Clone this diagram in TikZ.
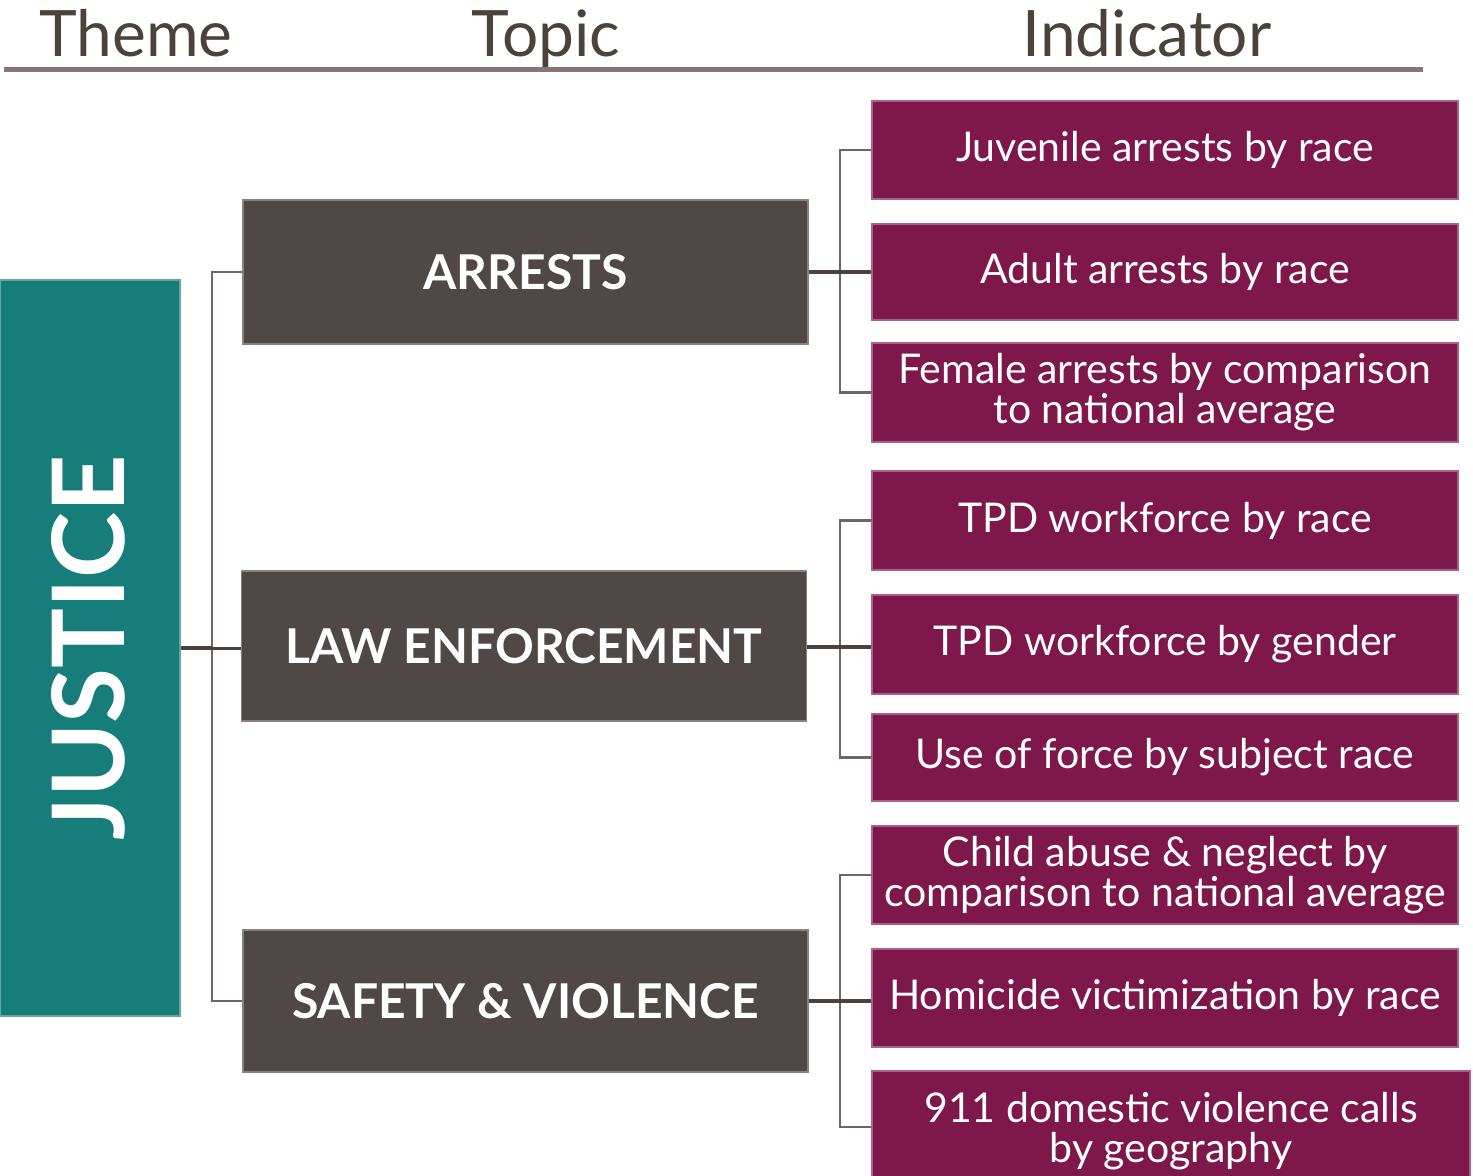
\documentclass[tikz,border=0pt]{standalone}
\usepackage{fontspec}
\setmainfont{Lato}
\definecolor{teal}{HTML}{177D7A}
\definecolor{tealb}{HTML}{5FA8A5}
\definecolor{darkbox}{HTML}{504747}
\definecolor{darkb}{HTML}{8A8282}
\definecolor{maroon}{HTML}{7E184B}
\definecolor{maroonb}{HTML}{A8628A}
\definecolor{connc}{HTML}{6E6666}
\definecolor{trunkc}{HTML}{4A4040}
\definecolor{rulec}{HTML}{857779}
\definecolor{headc}{HTML}{4B4239}
\tikzset{
  themebox/.style={fill=teal,draw=tealb,line width=0.8pt,inner sep=0pt,text=white,font=\fontsize{50}{50}\selectfont\bfseries},
  topicbox/.style={fill=darkbox,draw=darkb,line width=0.8pt,inner sep=0pt,text=white,font=\fontsize{24}{24}\selectfont\bfseries,minimum width=282.5pt},
  indbox/.style={fill=maroon,draw=maroonb,line width=0.8pt,inner sep=0pt,text=white,align=center,font=\fontsize{20.5}{20}\selectfont,minimum width=293pt},
  conn/.style={draw=connc,line width=1.4pt},
  trunk/.style={draw=trunkc,line width=2pt},
  head/.style={text=headc,font=\fontsize{32}{32}\selectfont,inner sep=0pt,anchor=base}
}
\begin{document}
\begin{tikzpicture}[x=0.5pt,y=-0.5pt]
\useasboundingbox (0,0) rectangle (1473,1175);
\fill[white] (0,0) rectangle (1473,1175);
% headers
\node[head] (hTheme) at (136,56) {Theme};
\node[head] (hTopic) at (546,56) {Topic};
\node[head] (hInd) at (1147,56) {Indicator};
\coordinate (rl) at (4,69.5);
\coordinate (rr) at (1423,69.5);
\draw[draw=rulec,line width=2.5pt] (rl) -- (rr);
% theme
\node[themebox,rotate=90,minimum width=368pt,minimum height=90pt] (justice) at (90,648) {\raisebox{2pt}{JUSTICE}};
% topics
\node[topicbox,minimum height=72pt] (arrests) at (525.5,272) {ARRESTS};
\node[topicbox,minimum height=75pt] (law) at (524,646) {LAW ENFORCEMENT};
\node[topicbox,minimum height=71pt] (safety) at (525.5,1001) {SAFETY \& VIOLENCE};
% indicators
\node[indbox,minimum height=49pt] (i1) at (1165,150) {Juvenile arrests by race};
\node[indbox,minimum height=48pt] (i2) at (1165,272) {Adult arrests by race};
\node[indbox,minimum height=49.5pt] (i3) at (1165,392.5) {Female arrests by comparison\\to national average};
\node[indbox,minimum height=49.5pt] (i4) at (1165,520.5) {TPD workforce by race};
\node[indbox,minimum height=49.5pt] (i5) at (1165,644.5) {TPD workforce by gender};
\node[indbox,minimum height=43.5pt] (i6) at (1165,757.5) {Use of force by subject race};
\node[indbox,minimum height=49pt] (i7) at (1165,875) {Child abuse \& neglect by\\comparison to national average};
\node[indbox,minimum height=49pt] (i8) at (1165,998) {Homicide victimization by race};
\node[indbox,minimum height=56pt,minimum width=299pt,text depth=0pt] (i9) at (1171,1127) {911 domestic violence calls\\by geography};
% theme connectors
\coordinate (tj) at (212,648);
\draw[conn] (arrests.west) -| (tj) |- (safety.west);
\draw[trunk] (justice.south |- tj) -- (tj);
\draw[trunk,line width=1.5pt] (tj) -- (law.west |- tj);
% arrests connectors
\coordinate (ta) at (840,272);
\draw[conn] (i1.west) -| (ta) |- (i3.west);
\draw[trunk] (arrests.east |- ta) -- (i2.west |- ta);
% law connectors
\coordinate (tl) at (840,647);
\draw[conn] (i4.west) -| (tl) |- (i6.west);
\draw[trunk] (law.east |- tl) -- (i5.west |- tl);
% safety connectors
\coordinate (ts) at (840,1001);
\draw[conn] (i7.west) -| (ts) |- (i9.west);
\draw[trunk] (safety.east |- ts) -- (i8.west |- ts);
\end{tikzpicture}
\end{document}
